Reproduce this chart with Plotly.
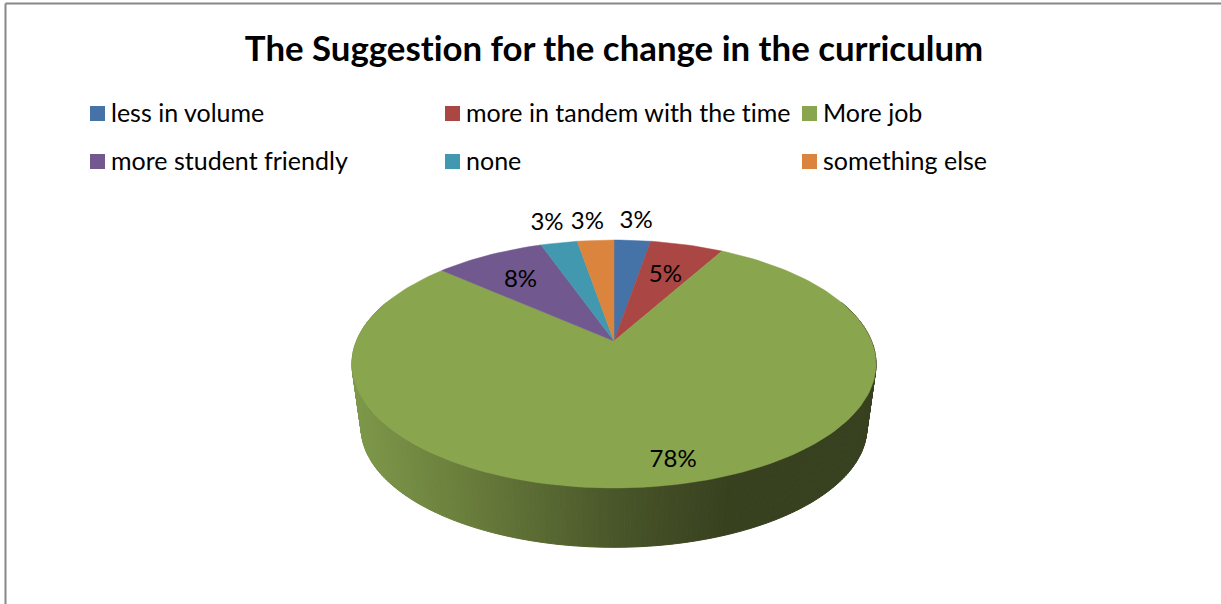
import math
import plotly.graph_objects as go

TITLE = "The Suggestion for the change in the curriculum"
categories = ["less in volume", "more in tandem with the time", "More job",
              "more student friendly", "none", "something else"]
percent_values = [2.7, 5.4, 78.4, 8.1, 2.7, 2.7]
colors = ["#4572A7", "#AA4643", "#89A54E", "#71588F", "#4198AF", "#DB843D"]

# Layout (page pixels)
W, H = 1221, 604
APEX_X, APEX_Y = 614, 341
B, A, K = 257.5, 119.7, 0.1855        # perspective projection of the disc
BOTTOM_SCALE, BOTTOM_APEX_Y = 0.965, 405.5
legend_x = [97.5, 452.5, 809.5, 97.5, 452.5, 809.5]
legend_y = [113.5, 113.5, 113.5, 161.5, 161.5, 161.5]
LEGEND_TEXT_DX, LEGEND_TEXT_DY = 13.5, 2
LABEL_DY = 2.5
label_radius = [1.25, 0.67, 0.85, 0.70, 1.27, 1.25]
label_nudge_deg = [0, 0, -3.5, -1, 0, -1]


def project(deg, r=1.0, cx=APEX_X, cy=APEX_Y, scale=1.0):
    t = math.radians(deg)
    w = 1 + K * r * math.cos(t)
    return (cx + scale * B * r * math.sin(t) / w,
            cy - scale * A * r * math.cos(t) / w)


def lerp_color(x):
    stops = [(352, (126, 153, 74)), (480, (103, 122, 58)), (620, (72, 85, 41)),
             (725, (56, 65, 31)), (880, (56, 65, 31))]
    for (x0, c0), (x1, c1) in zip(stops, stops[1:]):
        if x <= x1:
            f = max(0, (x - x0) / (x1 - x0))
            return "rgb(%d,%d,%d)" % tuple(round(a + (b - a) * f) for a, b in zip(c0, c1))
    return "rgb(56,65,31)"


fig = go.Figure()

# Side wall of the disc
STEP = 1
for d in range(70, 290, STEP):
    p1, p2 = project(d), project(d + STEP)
    q1 = project(d, cy=BOTTOM_APEX_Y, scale=BOTTOM_SCALE)
    q2 = project(d + STEP, cy=BOTTOM_APEX_Y, scale=BOTTOM_SCALE)
    col = lerp_color((p1[0] + p2[0] + q1[0] + q2[0]) / 4)
    fig.add_trace(go.Scatter(
        x=[p1[0], p2[0], q2[0], q1[0], p1[0]],
        y=[p1[1], p2[1], q2[1], q1[1], p1[1]],
        mode="lines", fill="toself", fillcolor=col,
        line=dict(color=col, width=1), hoverinfo="skip", showlegend=False))

# Top face, one wedge per category
total = sum(percent_values)
cum = 0.0
mids = []
for name, val, col in zip(categories, percent_values, colors):
    a0 = cum / total * 360
    a1 = (cum + val) / total * 360
    mids.append((a0 + a1) / 2)
    cum += val
    n = max(4, int((a1 - a0) / 1.5))
    arc = [project(a0 + (a1 - a0) * i / n) for i in range(n + 1)]
    xs = [APEX_X] + [p[0] for p in arc] + [APEX_X]
    ys = [APEX_Y] + [p[1] for p in arc] + [APEX_Y]
    fig.add_trace(go.Scatter(
        x=xs, y=ys, mode="lines", fill="toself", fillcolor=col,
        line=dict(color=col, width=0.5), name=name, showlegend=False,
        hovertemplate=f"{name}: {round(val)}%<extra></extra>"))

# Percentage labels
lab = [project(m + nudge, r) for m, nudge, r in zip(mids, label_nudge_deg, label_radius)]
fig.add_trace(go.Scatter(
    x=[p[0] for p in lab], y=[p[1] + LABEL_DY for p in lab], mode="text",
    text=[f"{round(v)}%" for v in percent_values], textposition="middle center",
    textfont=dict(family="Lato", size=24, color="#000000"),
    hoverinfo="skip", showlegend=False))

# Legend
for name, col, lx, ly in zip(categories, colors, legend_x, legend_y):
    fig.add_trace(go.Scatter(
        x=[lx], y=[ly], mode="markers",
        marker=dict(symbol="square", size=15, color=col, line=dict(width=0)),
        hoverinfo="skip", showlegend=False))
    fig.add_trace(go.Scatter(
        x=[lx + LEGEND_TEXT_DX], y=[ly + LEGEND_TEXT_DY], mode="text", text=[name],
        textposition="middle right",
        textfont=dict(family="Lato", size=25, color="#000000"),
        hoverinfo="skip", showlegend=False))

fig.update_layout(
    width=W, height=H, margin=dict(l=0, r=0, t=0, b=0),
    paper_bgcolor="#ffffff", plot_bgcolor="#ffffff", showlegend=False,
    xaxis=dict(range=[0, W], visible=False, fixedrange=True),
    yaxis=dict(range=[H, 0], visible=False, fixedrange=True),
    title=dict(text=f"<b>{TITLE}</b>", x=614 / W, xanchor="center", y=1 - 49 / H, yanchor="middle",
               font=dict(family="Lato", size=34.8, color="#000000")),
    shapes=[
        dict(type="line", xref="x", yref="y", x0=5.5, x1=5.5, y0=3.5, y1=H, line=dict(color="#888888", width=2)),
        dict(type="line", xref="x", yref="y", x0=5.5, x1=W, y0=3.5, y1=3.5, line=dict(color="#888888", width=2)),
    ],
)
fig.write_html("out.html", config={"displayModeBar": False}, post_script=(
    "document.body.style.margin='0';document.body.style.overflow='hidden';"
    "var s=document.createElement('style');"
    "s.textContent='svg text{font-variant-ligatures:none;font-feature-settings:\"liga\" 0;}';"
    "document.head.appendChild(s);"
))
